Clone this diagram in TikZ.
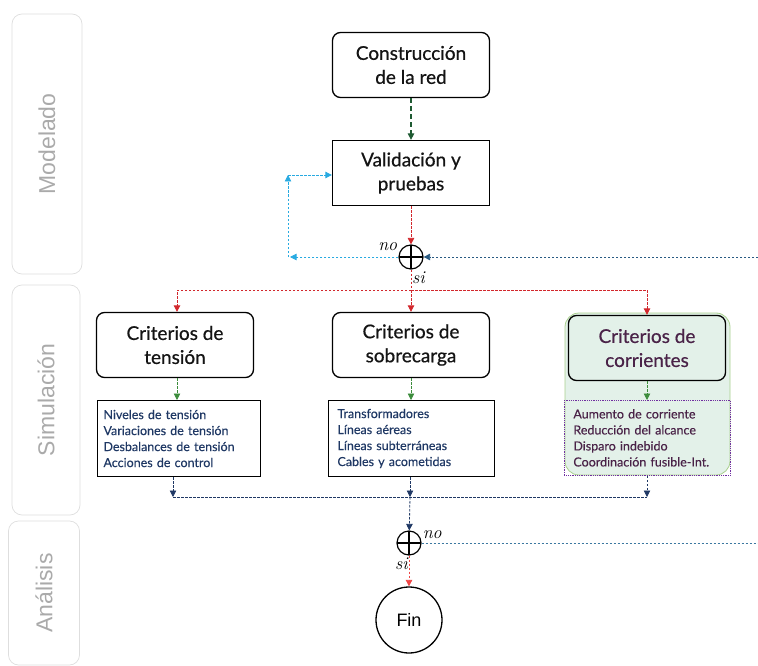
\documentclass[tikz,border=0pt]{standalone}
\usepackage{fontspec}
\setmainfont{Lato}
\newfontfamily\boxfont{Lato}[FakeBold=0.6]
\newfontfamily\listfont{Lato}[FakeBold=0.3]
\newfontfamily\lanefont{Liberation Sans}
\newfontfamily\ynfont{Latin Modern Roman}
\usetikzlibrary{arrows.meta, positioning, shapes.geometric}
\definecolor{textdark}{RGB}{20,20,20}
\definecolor{lanegray}{RGB}{170,170,170}
\definecolor{laneline}{RGB}{222,222,222}
\definecolor{listblue}{RGB}{31,56,100}
\definecolor{corrtext}{RGB}{74,35,72}
\definecolor{corrfill}{RGB}{227,241,233}
\definecolor{corrline}{RGB}{169,208,142}
\definecolor{corrdots}{RGB}{112,48,160}
\definecolor{flowred}{RGB}{210,40,45}
\definecolor{flowlightred}{RGB}{240,70,70}
\definecolor{flowgreen}{RGB}{60,140,60}
\definecolor{flowdkgreen}{RGB}{30,90,50}
\definecolor{flowcyan}{RGB}{40,170,225}
\definecolor{flowteal}{RGB}{40,90,130}
\definecolor{flowblue}{RGB}{60,120,160}

\begin{document}
\begin{tikzpicture}[
    x=1pt, y=-1pt,
    lane/.style={rectangle, draw=laneline, line width=0.7pt, rounded corners=10pt,
                 rotate=90, text=lanegray, font=\lanefont\fontsize{23}{26}\selectfont},
    box/.style={rectangle, draw=black, line width=1.3pt, rounded corners=8pt,
                minimum width=157pt, minimum height=65pt, align=center,
                text=textdark, font=\boxfont\fontsize{19}{24}\selectfont},
    listbox/.style={rectangle, draw=black, line width=1pt, align=left, anchor=north west,
                    inner sep=6pt, minimum height=76pt, text=listblue,
                    font=\listfont\fontsize{12.5}{16}\selectfont},
    dec/.style={circle, draw=black, line width=1.2pt, minimum size=24pt, inner sep=0pt,
                path picture={\draw[line width=1.2pt]
                  (path picture bounding box.north) -- (path picture bounding box.south)
                  (path picture bounding box.west) -- (path picture bounding box.east);}},
    flow/.style={line width=0.8pt, dash pattern=on 2.5pt off 1.5pt},
    tip/.style={-{Triangle[length=6.5pt,width=6.5pt]}},
    yn/.style={inner sep=1pt, font=\ynfont\itshape\fontsize{18}{20}\selectfont}
]
    \useasboundingbox (0,0) rectangle (758,666);

    % Lanes
    \node[lane, minimum width=260pt, minimum height=70pt] (modelado) at (47,144) {Modelado};
    \node[lane, minimum width=230pt, minimum height=68pt] (simulacion) at (46,400) {Simulación};
    \node[lane, minimum width=144pt, minimum height=71pt] (analisis) at (44,593) {Análisis};

    % Modelado
    \node[box] (construccion) at (411,65) {Construcción\\de la red};
    \node[box, rounded corners=0pt] (validacion) at (411,173) {Validación y\\pruebas};
    \node[dec] (dec1) at (411,257) {};
    \node[yn, anchor=south east] at ([yshift=5pt]dec1.west) {no};
    \node[yn, anchor=north west] at ([yshift=-1pt]dec1.south) {si};

    \draw[flow, tip, draw=flowdkgreen, line width=1.3pt, dash pattern=on 5pt off 3pt]
        (construccion) -- (validacion);
    \draw[flow, tip, draw=flowred] (validacion) -- (dec1);

    % Retorno (no)
    \coordinate (noleft) at (290,257);
    \coordinate (noup) at (288,175);
    \coordinate (noright) at (758,257);
    \draw[flow, tip, draw=flowcyan] (dec1.west) -- (noleft);
    \draw[flow, tip, draw=flowcyan] (noleft -| noup) -- (noup);
    \draw[flow, tip, draw=flowcyan] (noup) -- (noup -| validacion.west);
    \draw[flow, tip, draw=flowteal] (noright) -- (dec1.east);

    % Simulacion
    \node[rectangle, draw=corrline, fill=corrfill, line width=0.8pt, rounded corners=14pt,
          minimum width=165pt, minimum height=162pt] (corrbg) at (647.5,394) {};
    \node[box] (tension) at (175,345) {Criterios de\\tensión};
    \node[box] (sobrecarga) at (411,345) {Criterios de\\sobrecarga};
    \node[box, fill=corrfill, text=corrtext] (corrientes) at (647,348) {Criterios de\\corrientes};

    \node[listbox, text width=151pt] (tenlist) at (97,400)
        {Niveles de tensión\\Variaciones de tensión\\Desbalances de tensión\\Acciones de control};
    \node[listbox, text width=148pt, inner xsep=9pt] (sobrelist) at (328,400)
        {Transformadores\\Líneas aéreas\\Líneas subterráneas\\Cables y acometidas};
    \node[listbox, text width=148pt, inner xsep=9pt, draw=corrdots, line width=0.8pt,
          densely dotted, text=corrtext, minimum height=75pt] (corrlist) at (564,400)
        {Aumento de corriente\\Reducción del alcance\\Disparo indebido\\Coordinación fusible-Int.};

    % Ramas (si)
    \coordinate (split) at (411,290);
    \draw[flow, draw=flowred] (dec1) -- (split);
    \draw[flow, tip, draw=flowred] (split) -| (tension.north -| 177,0);
    \draw[flow, tip, draw=flowred] (split) -- (sobrecarga);
    \draw[flow, tip, draw=flowred] (split) -| (corrientes.north);

    \draw[flow, tip, draw=flowgreen] (tension.south -| 177,0) -- (tenlist.north -| 177,0);
    \draw[flow, tip, draw=flowgreen] (sobrecarga) -- (sobrecarga |- sobrelist.north);
    \draw[flow, tip, draw=flowgreen] (corrientes) -- (corrientes |- corrlist.north);

    % Union
    \coordinate (join1) at (173,497);
    \coordinate (join2) at (410,497);
    \coordinate (join3) at (647,497);
    \draw[flow, tip, draw=listblue] (tenlist.south -| join1) -- (join1);
    \draw[flow, tip, draw=listblue] (sobrelist.south -| join2) -- (join2);
    \draw[flow, tip, draw=listblue] (corrlist.south -| join3) -- (join3);
    \draw[flow, draw=listblue] (join1) -- (join3);

    % Analisis
    \node[dec] (dec2) at (409,543) {};
    \node[yn, anchor=south west] at ([yshift=3pt]dec2.east) {no};
    \node[yn, anchor=north east] at ([yshift=-1pt]dec2.south) {si};
    \node[circle, draw=black, line width=1.3pt, minimum size=66pt, inner sep=0pt,
          font=\lanefont\fontsize{18}{20}\selectfont] (fin) at (409,620) {Fin};

    \coordinate (noright2) at (758,543);
    \draw[flow, tip, draw=listblue] (join2) -- (dec2);
    \draw[flow, draw=flowblue] (dec2.east) -- (noright2);
    \draw[flow, tip, draw=flowlightred] (dec2) -- (fin);
\end{tikzpicture}
\end{document}
